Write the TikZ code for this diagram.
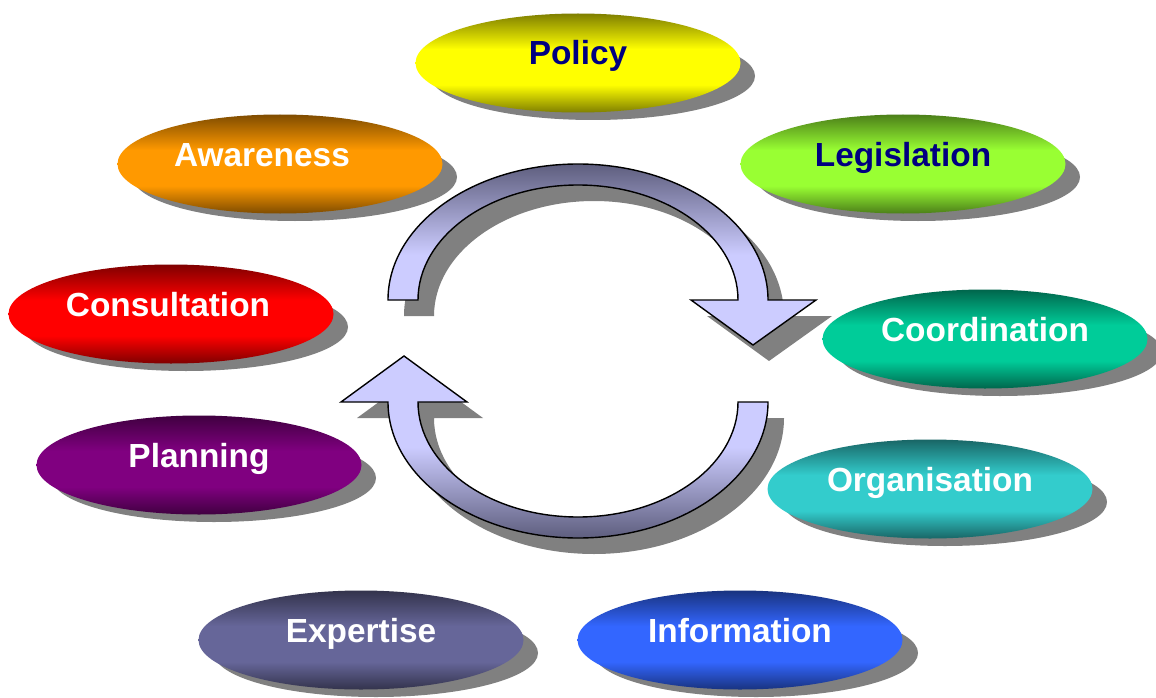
\documentclass[tikz,border=0pt]{standalone}
\usepackage{fontspec}
\setmainfont{Liberation Sans}
\usetikzlibrary{shapes.geometric}

% palette
\definecolor{shadowgray}{HTML}{808080}
\definecolor{navytext}{HTML}{000080}
\definecolor{arrowdark}{HTML}{5E5E7E}
\definecolor{arrowlight}{HTML}{CCCCFF}
\colorlet{ovdark}{black}
\colorlet{ovlight}{white}

% dark - bright band - dark, across the height of an oval
\pgfdeclareverticalshading[ovdark,ovlight]{ovalshade}{100bp}{%
  color(0bp)=(ovdark); color(25bp)=(ovdark); color(39bp)=(ovlight);
  color(57bp)=(ovlight); color(75bp)=(ovdark); color(100bp)=(ovdark)}
% cycle arrows: dark on the outer bend, light towards the ends
\pgfdeclareverticalshading{arrowdown}{100bp}{%
  color(0bp)=(arrowlight); color(50bp)=(arrowlight);
  color(75bp)=(arrowdark); color(100bp)=(arrowdark)}
\pgfdeclareverticalshading{arrowup}{100bp}{%
  color(0bp)=(arrowdark); color(25bp)=(arrowdark);
  color(50bp)=(arrowlight); color(100bp)=(arrowlight)}

\tikzset{
  oval colors/.code 2 args={\definecolor{ovdark}{HTML}{#1}\definecolor{ovlight}{HTML}{#2}},
  oval/.style 2 args={ellipse, minimum width=325, minimum height=99,
    inner sep=0pt, oval colors={#1}{#2}, shade, shading=ovalshade},
  ovalshadow/.style={ellipse, minimum width=324, minimum height=88,
    inner sep=0pt, fill=shadowgray},
  lbl/.style={anchor=base, inner sep=0pt, font=\fontsize{33.4}{37}\selectfont\bfseries},
  arrowbody/.style={draw=black, line width=1.4pt, line join=miter, shade},
  toparrow/.style={insert path={
    (388,300) arc[start angle=180, end angle=360, x radius=190, y radius=136]
    -- (816,300) -- (753,345) -- (691,300) -- (738,300)
    arc[start angle=0, end angle=-180, x radius=160, y radius=115] -- cycle}},
  bottomarrow/.style={insert path={
    (768,402) arc[start angle=0, end angle=180, x radius=190, y radius=136]
    -- (341,402) -- (404,356) -- (467,402) -- (418,402)
    arc[start angle=180, end angle=0, x radius=160, y radius=115] -- cycle}},
}

\begin{document}
\begin{tikzpicture}[x=1pt, y=-1pt]
  \fill[white] (0,0) rectangle (1156,698);
  \useasboundingbox (0,0) rectangle (1156,698);

  % drop shadows of the ovals
  \node[ovalshadow] (policy-s)       at (593,76)  {};
  \node[ovalshadow] (awareness-s)    at (295,177) {};
  \node[ovalshadow] (legislation-s)  at (918,177) {};
  \node[ovalshadow] (consultation-s) at (186,327) {};
  \node[ovalshadow] (coordination-s) at (1000,352) {};
  \node[ovalshadow] (planning-s)     at (214,478) {};
  \node[ovalshadow] (organisation-s) at (945,502) {};
  \node[ovalshadow] (expertise-s)    at (376,653) {};
  \node[ovalshadow] (information-s)  at (756,653) {};

  % the ovals
  \node[oval={7F7F00}{FFFF00}] (policy)       at (578,63)  {};
  \node[oval={7F4C00}{FF9900}] (awareness)    at (280,164) {};
  \node[oval={4C7F19}{99FF33}] (legislation)  at (903,164) {};
  \node[oval={7F0000}{FF0000}] (consultation) at (171,314) {};
  \node[oval={00664C}{00CC99}] (coordination) at (985,339) {};
  \node[oval={400040}{800080}] (planning)     at (199,465) {};
  \node[oval={196666}{33CCCC}] (organisation) at (930,489) {};
  \node[oval={33334C}{666699}] (expertise)    at (361,640) {};
  \node[oval={19337F}{3366FF}] (information)  at (740,640) {};

  % labels
  \node[lbl, text=navytext] (policy-t)      at ([yshift=-2pt]policy.center) {Policy};
  \node[lbl, text=white] (awareness-t)      at ([xshift=-18pt,yshift=-2pt]awareness.center) {Awareness};
  \node[lbl, text=navytext] (legislation-t) at ([yshift=-2pt]legislation.center) {Legislation};
  \node[lbl, text=white] (consultation-t)   at ([xshift=-3pt,yshift=-2pt]consultation.center) {Consultation};
  \node[lbl, text=white] (coordination-t)   at ([yshift=-2pt]coordination.center) {Coordination};
  \node[lbl, text=white] (planning-t)       at ([yshift=-2pt]planning.center) {Planning};
  \node[lbl, text=white] (organisation-t)   at ([yshift=-2pt]organisation.center) {Organisation};
  \node[lbl, text=white] (expertise-t)      at ([yshift=-2pt]expertise.center) {Expertise};
  \node[lbl, text=white] (information-t)    at ([yshift=-2pt]information.center) {Information};

  % the cycle arrows and their shadows
  \fill[shadowgray, shift={(16,16)}, toparrow];
  \fill[shadowgray, shift={(16,16)}, bottomarrow];
  \path[arrowbody, shading=arrowdown, toparrow];
  \path[arrowbody, shading=arrowup, bottomarrow];
\end{tikzpicture}
\end{document}
